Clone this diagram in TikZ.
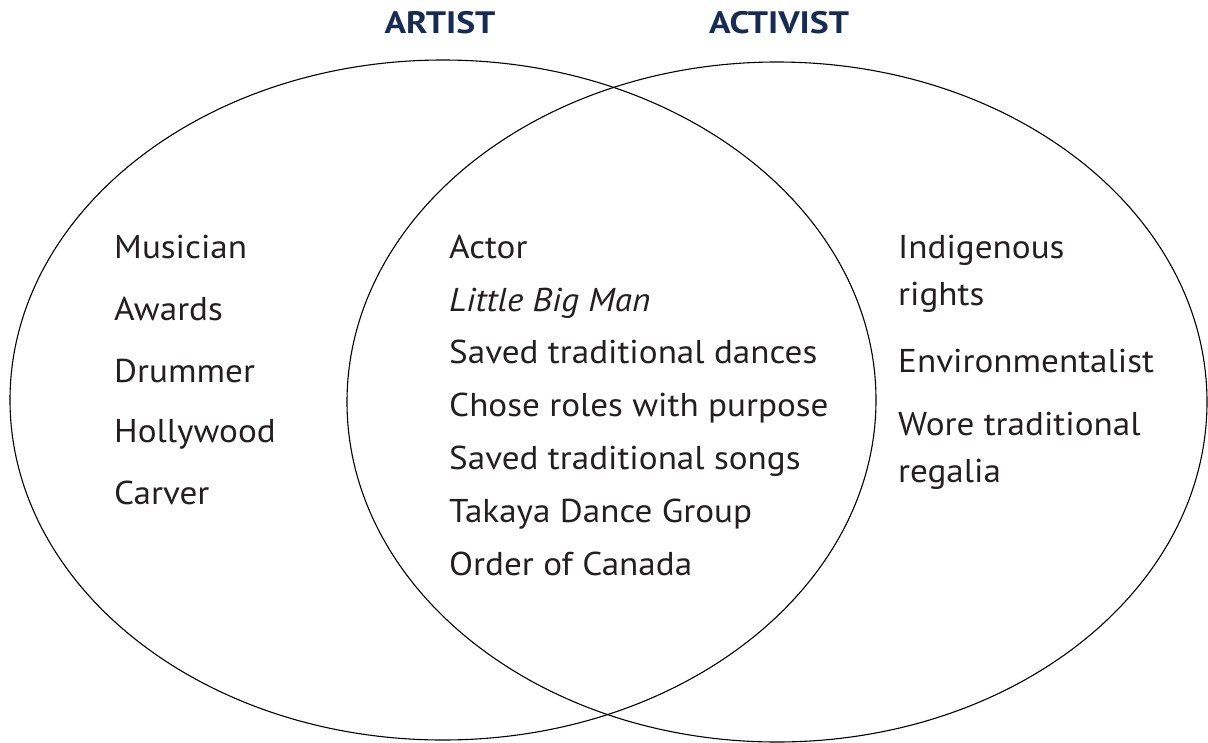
\documentclass[tikz,border=0pt]{standalone}
\usepackage{fontspec}
\setmainfont{PT Sans}[FakeStretch=1.065]
\newfontfamily\titlefont{PT Sans}[FakeStretch=1.15]
\definecolor{navy}{RGB}{22,44,84}
\definecolor{ink}{RGB}{35,31,32}
\tikzset{
  item/.style={anchor=base west, inner sep=0pt, text=ink, font=\fontsize{33}{47}\selectfont, align=left},
  title/.style={anchor=base, inner sep=0pt, text=navy, font=\titlefont\fontsize{31}{36}\selectfont\bfseries},
  ring/.style={draw=black, line width=1.1pt}
}
\begin{document}
\begin{tikzpicture}[x=1pt,y=-1pt]
\useasboundingbox (0,0) rectangle (1208,742);
\draw[ring] (443,400) ellipse [x radius=433, y radius=340];
\draw[ring] (777,402) ellipse [x radius=430, y radius=340];
\node[title] (artist) at (440,33) {ARTIST};
\node[title] (activist) at (779,33) {ACTIVIST};
% left
\node[item] (l1) at (114,258.5) {Musician};
\node[item] (l2) at (114,320.5) {Awards};
\node[item] (l3) at (114,382) {Drummer};
\node[item] (l4) at (114,442.5) {Hollywood};
\node[item] (l5) at (114,504) {Carver};
% middle
\node[item] (m1) at (449,258) {Actor};
\node[item] (m2) at (449,311) {\itshape Little Big Man};
\node[item] (m3) at (449,363) {Saved traditional dances};
\node[item] (m4) at (449,416) {Chose roles with purpose};
\node[item] (m5) at (449,469) {Saved traditional songs};
\node[item] (m6) at (449,522) {Takaya Dance Group};
\node[item] (m7) at (449,575) {Order of Canada};
% right
\node[item] (r1) at (898,258) {Indigenous};
\node[item] (r2) at (898,305) {rights};
\node[item] (r3) at (898,372) {Environmentalist};
\node[item] (r4) at (898,435) {Wore traditional};
\node[item] (r5) at (898,482) {regalia};
\end{tikzpicture}
\end{document}
